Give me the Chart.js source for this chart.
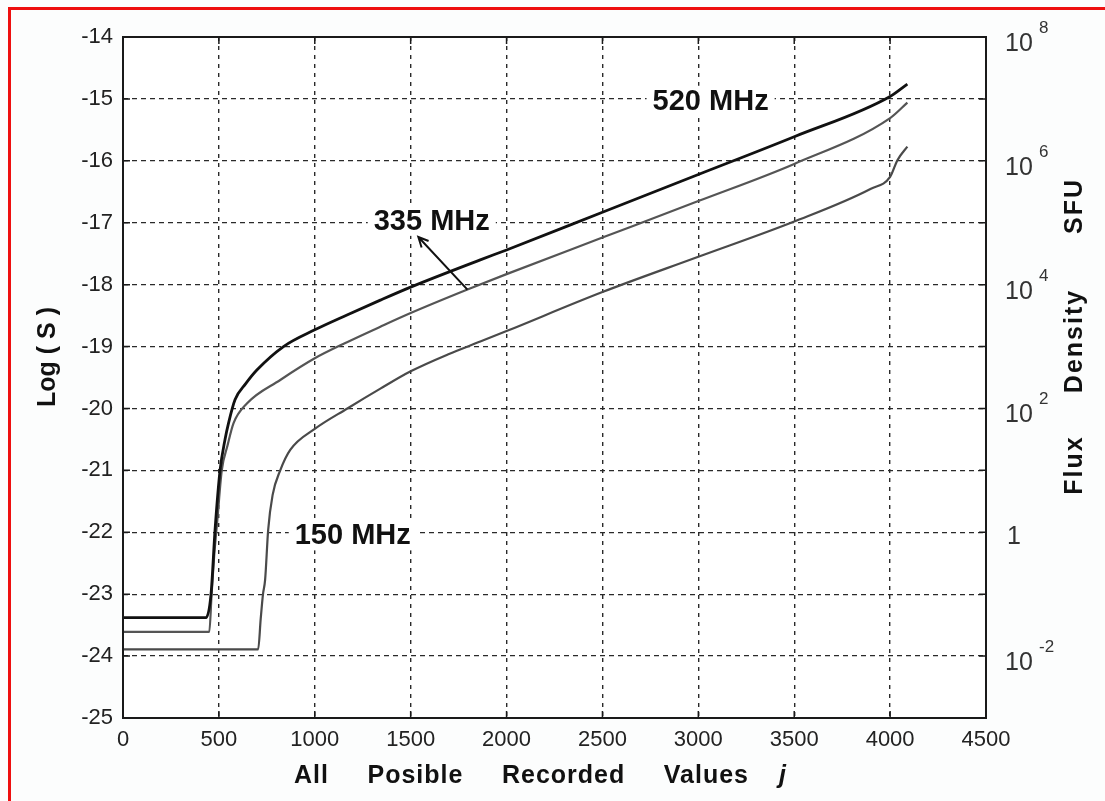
<!DOCTYPE html>
<html>
<head>
<meta charset="utf-8">
<script src="https://cdn.jsdelivr.net/npm/chart.js@4/dist/chart.umd.min.js"></script>
<style>
  html, body { margin: 0; padding: 0; background: #fcfdfd; }
  canvas { display: block; }
</style>
</head>
<body>
<canvas id="chart" width="1105" height="801"></canvas>
<script>
const j520 = [0, 433, 459, 480, 506, 532, 550, 584, 640, 698, 837, 1000, 1168, 1342, 1500, 1863, 2000, 2500, 3000, 3500, 4000, 4090];
const s520 = [-23.38, -23.38, -23.0, -21.96, -21.0, -20.5, -20.24, -19.86, -19.6, -19.38, -19.0, -18.73, -18.49, -18.25, -18.04, -17.6, -17.44, -16.83, -16.22, -15.61, -14.96, -14.76];

const j335 = [0, 450, 462, 475, 492, 515, 545, 576, 646, 820, 1000, 1168, 1342, 1500, 1796, 2000, 2500, 3000, 3500, 4000, 4090];
const s335 = [-23.61, -23.61, -23.0, -22.4, -21.8, -21.0, -20.6, -20.24, -19.92, -19.54, -19.19, -18.93, -18.68, -18.46, -18.08, -17.83, -17.24, -16.65, -16.05, -15.31, -15.06];

const j150 = [0, 705, 718, 730, 741, 757, 780, 820, 872, 1000, 1170, 1342, 1500, 1700, 1863, 2000, 2500, 3000, 3500, 3900, 4000, 4038, 4090];
const s150 = [-23.89, -23.89, -23.4, -23.0, -22.77, -21.96, -21.4, -21.0, -20.67, -20.33, -20.0, -19.68, -19.4, -19.12, -18.92, -18.75, -18.12, -17.55, -16.98, -16.45, -16.26, -15.99, -15.77];

// curve labels and the arrow pointing at the 335 MHz line
const labelText = ["520 MHz", "335 MHz", "150 MHz"];
const labelJ = [3064, 1610, 1198];
const labelS = [-15.03, -16.97, -22.05];
const arrowFrom = [1796, -18.08];
const arrowTo = [1540, -17.23];

// right axis: exponent of flux density (SFU) at every second tick
const sfuTicks = [-24, -22, -20, -18, -16, -14];
const sfuExp = ["-2", "", "2", "4", "6", "8"];

const FONT = '"Liberation Sans", Arial, sans-serif';

function toPoints(xs, ys) {
  return xs.map((x, i) => ({ x: x, y: ys[i] }));
}

const paperPlugin = {
  id: "paper",
  beforeDraw(chart) {
    const ctx = chart.ctx;
    const a = chart.chartArea;
    ctx.save();
    ctx.fillStyle = "#fcfdfd";
    ctx.fillRect(0, 0, chart.width, chart.height);
    ctx.fillStyle = "#ffffff";
    ctx.fillRect(a.left, a.top, a.right - a.left, a.bottom - a.top);
    // red frame of the scan (top and left only)
    ctx.fillStyle = "#ee1010";
    ctx.fillRect(8, 7, chart.width - 8, 3);
    ctx.fillRect(8, 7, 3, chart.height - 7);
    ctx.restore();
  },
};

function drawRotated(ctx, text, x, y) {
  ctx.save();
  ctx.translate(x, y);
  ctx.rotate(-Math.PI / 2);
  ctx.fillText(text, 0, 0);
  ctx.restore();
}

const decorPlugin = {
  id: "decor",
  afterDraw(chart) {
    const ctx = chart.ctx;
    const a = chart.chartArea;
    const xs = chart.scales.x;
    const ys = chart.scales.y;
    const y2 = chart.scales.y2;
    ctx.save();

    // box and inward ticks
    ctx.strokeStyle = "#1a1a1a";
    ctx.lineWidth = 2;
    ctx.strokeRect(a.left, a.top, a.right - a.left, a.bottom - a.top);
    ctx.lineWidth = 1.5;
    ctx.beginPath();
    ys.ticks.forEach((t) => {
      const py = ys.getPixelForValue(t.value);
      ctx.moveTo(a.left, py); ctx.lineTo(a.left + 7, py);
      ctx.moveTo(a.right, py); ctx.lineTo(a.right - 7, py);
    });
    xs.ticks.forEach((t) => {
      const px = xs.getPixelForValue(t.value);
      ctx.moveTo(px, a.bottom); ctx.lineTo(px, a.bottom - 7);
      ctx.moveTo(px, a.top); ctx.lineTo(px, a.top + 7);
    });
    ctx.stroke();

    // right axis labels 10^n
    ctx.fillStyle = "#333";
    ctx.textBaseline = "alphabetic";
    ctx.textAlign = "left";
    sfuTicks.forEach((v, i) => {
      const py = y2.getPixelForValue(v);
      const e = sfuExp[i];
      ctx.font = "25px " + FONT;
      if (e === "") {
        ctx.fillText("1", a.right + 21, py + 12);
        return;
      }
      ctx.fillText("10", a.right + 19, py + 14);
      ctx.font = "17px " + FONT;
      ctx.fillText(e, a.right + 53, py - 4);
    });

    // axis titles
    ctx.fillStyle = "#111";
    ctx.font = "bold 25px " + FONT;
    ctx.textAlign = "center";
    ctx.textBaseline = "middle";
    drawRotated(ctx, "Log ( S )", 48, 357);

    if ("letterSpacing" in ctx) ctx.letterSpacing = "2px";
    drawRotated(ctx, "Flux", 1075, 465);
    drawRotated(ctx, "Density", 1075, 341);
    drawRotated(ctx, "SFU", 1075, 206);

    // x title, words spread like the original
    const words = ["All", "Posible", "Recorded", "Values"];
    ctx.textAlign = "left";
    ctx.textBaseline = "alphabetic";
    if ("letterSpacing" in ctx) ctx.letterSpacing = "1px";
    const widths = words.map((w) => ctx.measureText(w).width);
    const sum = widths.reduce((p, c) => p + c, 0);
    const gap = Math.max(10, (455 - sum) / 3);
    let wx = 294;
    words.forEach((w, i) => {
      ctx.fillText(w, wx, 783);
      wx += widths[i] + gap;
    });
    if ("letterSpacing" in ctx) ctx.letterSpacing = "0px";
    ctx.font = "italic bold 25px " + FONT;
    ctx.fillText("j", 779, 783);

    // curve labels with white boxes that cut the grid
    ctx.font = "bold 29px " + FONT;
    ctx.textAlign = "center";
    ctx.textBaseline = "middle";
    labelText.forEach((t, i) => {
      const px = xs.getPixelForValue(labelJ[i]);
      const py = ys.getPixelForValue(labelS[i]);
      const w = ctx.measureText(t).width;
      ctx.fillStyle = "#ffffff";
      ctx.fillRect(px - w / 2 - 6, py - 15, w + 12, 30);
      ctx.fillStyle = "#111";
      ctx.fillText(t, px, py + 1);
    });

    // arrow
    const x0 = xs.getPixelForValue(arrowFrom[0]);
    const y0 = ys.getPixelForValue(arrowFrom[1]);
    const x1 = xs.getPixelForValue(arrowTo[0]);
    const y1 = ys.getPixelForValue(arrowTo[1]);
    const ang = Math.atan2(y1 - y0, x1 - x0);
    ctx.strokeStyle = "#111";
    ctx.lineWidth = 2;
    ctx.beginPath();
    ctx.moveTo(x0, y0);
    ctx.lineTo(x1, y1);
    ctx.moveTo(x1 - 11 * Math.cos(ang - 0.45), y1 - 11 * Math.sin(ang - 0.45));
    ctx.lineTo(x1, y1);
    ctx.lineTo(x1 - 11 * Math.cos(ang + 0.45), y1 - 11 * Math.sin(ang + 0.45));
    ctx.stroke();

    ctx.restore();
  },
};

function makeChart() {
  const canvas = document.getElementById("chart");

  const datasets = [
    { label: "520 MHz", data: toPoints(j520, s520), borderColor: "#111111", borderWidth: 2.8 },
    { label: "335 MHz", data: toPoints(j335, s335), borderColor: "#555555", borderWidth: 2.2 },
    { label: "150 MHz", data: toPoints(j150, s150), borderColor: "#4a4a4a", borderWidth: 2.2 },
  ];
  datasets.forEach((d) => {
    d.pointRadius = 0;
    d.fill = false;
    d.cubicInterpolationMode = "monotone";
  });

  const gridColor = "#2a2a2a";

  new Chart(canvas, {
    type: "line",
    data: { datasets: datasets },
    options: {
      responsive: false,
      animation: false,
      devicePixelRatio: 1,
      layout: { padding: { top: 37, left: 0, right: 0, bottom: 0 } },
      plugins: {
        legend: { display: false },
        tooltip: { enabled: false },
      },
      scales: {
        x: {
          type: "linear",
          min: 0,
          max: 4500,
          afterFit: (s) => { s.height = 83; },
          ticks: {
            stepSize: 500,
            autoSkip: false,
            maxRotation: 0,
            padding: 9,
            color: "#222",
            font: { family: FONT, size: 22 },
            callback: (v) => String(v),
          },
          grid: { color: gridColor, lineWidth: 1.4, drawTicks: false },
          border: { display: false, dash: [4, 5] },
        },
        y: {
          type: "linear",
          position: "left",
          min: -25,
          max: -14,
          afterFit: (s) => { s.width = 123; },
          ticks: {
            stepSize: 1,
            padding: 10,
            color: "#222",
            font: { family: FONT, size: 22 },
            callback: (v) => String(v),
          },
          grid: { color: gridColor, lineWidth: 1.3, drawTicks: false },
          border: { display: false, dash: [5, 4] },
        },
        y2: {
          type: "linear",
          position: "right",
          min: -25,
          max: -14,
          afterFit: (s) => { s.width = 119; },
          ticks: { display: false, stepSize: 1 },
          grid: { drawOnChartArea: false, drawTicks: false },
          border: { display: false },
        },
      },
    },
    plugins: [paperPlugin, decorPlugin],
  });
}

makeChart();
</script>
</body>
</html>
